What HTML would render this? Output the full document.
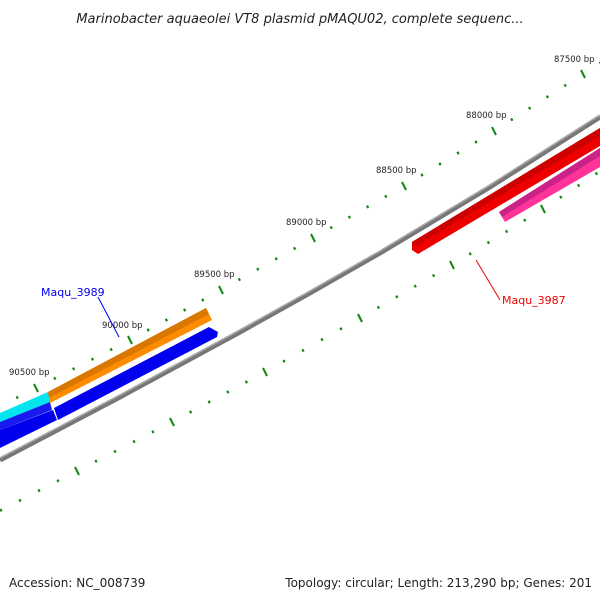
<!DOCTYPE html>
<html><head><meta charset="utf-8"><style>
body{margin:0;background:#fff;}
svg{display:block;font-family:"DejaVu Sans","Liberation Sans",sans-serif;}
</style></head><body>
<svg id="s" width="600" height="600" viewBox="0 0 600 600">
<text x="300" y="23" text-anchor="middle" font-size="13" font-style="italic" fill="#222">Marinobacter aquaeolei VT8 plasmid pMAQU02, complete sequenc...</text>
<g id="ticks" stroke="#118811"></g>
<g font-size="8.5" fill="#222">
<text x="554" y="62">87500 bp</text>
<text x="466" y="118">88000 bp</text>
<text x="376" y="173">88500 bp</text>
<text x="286" y="225">89000 bp</text>
<text x="194" y="277">89500 bp</text>
<text x="102" y="328">90000 bp</text>
<text x="9" y="375">90500 bp</text>
</g>
<path d="M0,460 L120,397 L240,332 L310,293 L380,253 L490,187 L600,117" fill="none" stroke="#777" stroke-width="5"/>
<path d="M0,458 L120,395 L240,330 L310,291 L380,251 L490,185 L600,115" fill="none" stroke="#aaa" stroke-width="1.5"/>
<polygon points="0,413 48,392 50,402 0,422" fill="#00e5ee"/>
<polygon points="0,422 50,402 52,410 0,430" fill="#1a1aee"/>
<polygon points="48,392 206,308 212,320 50,403" fill="#ff8c00"/>
<polygon points="48,392 206,308 209,314 49,398" fill="#d97700"/>
<polygon points="54,408 209,327 218,332 217,337 58,420" fill="#0000ee"/>
<polygon points="0,430 53,410 57,420 0,448" fill="#0000ee"/>
<polygon points="412,242 600,128 600,146 418,254 412,250" fill="#ee0000"/>
<polygon points="412,242 600,128 600,136 414,247" fill="#cc0000"/>
<polygon points="499,212 600,148 600,167 505,222" fill="#ff3399"/>
<polygon points="499,212 600,148 600,156 502,217" fill="#cc2288"/>
<line x1="98" y1="297" x2="119" y2="337" stroke="#0000ee" stroke-width="1"/>
<text x="41" y="296" font-size="11" fill="#0000ee">Maqu_3989</text>
<line x1="476" y1="260" x2="500" y2="300" stroke="#ee0000" stroke-width="1"/>
<text x="502" y="304" font-size="11" fill="#ee0000">Maqu_3987</text>
<text x="9" y="587" font-size="12" fill="#222">Accession: NC_008739</text>
<text x="592" y="587" font-size="12" fill="#222" text-anchor="end">Topology: circular; Length: 213,290 bp; Genes: 201</text>
</svg>
<script>
var g=document.getElementById('ticks'),ns='http://www.w3.org/2000/svg';
function row(M){
 for(var i=0;i<M.length-1;i++){
  var a=M[i],b=M[i+1];
  for(var k=0;k<5;k++){
   var t=k/5,x=a[0]+(b[0]-a[0])*t,y=a[1]+(b[1]-a[1])*t,l=document.createElementNS(ns,'line');
   var h=k==0?4:1.2;
   l.setAttribute('x1',x-h*0.5);l.setAttribute('y1',y-h);l.setAttribute('x2',x+h*0.5);l.setAttribute('y2',y+h);
   l.setAttribute('stroke-width',k==0?2:2.2);g.appendChild(l);
  }
 }
}
row([[-58,435],[36,388],[130,340],[221,290],[313,238],[404,186],[494,131],[583,74],[670,18]]);
row([[-18,520],[77,471],[172,422],[265,372],[360,318],[452,265],[543,209],[632,150]]);
</script>
</body></html>
